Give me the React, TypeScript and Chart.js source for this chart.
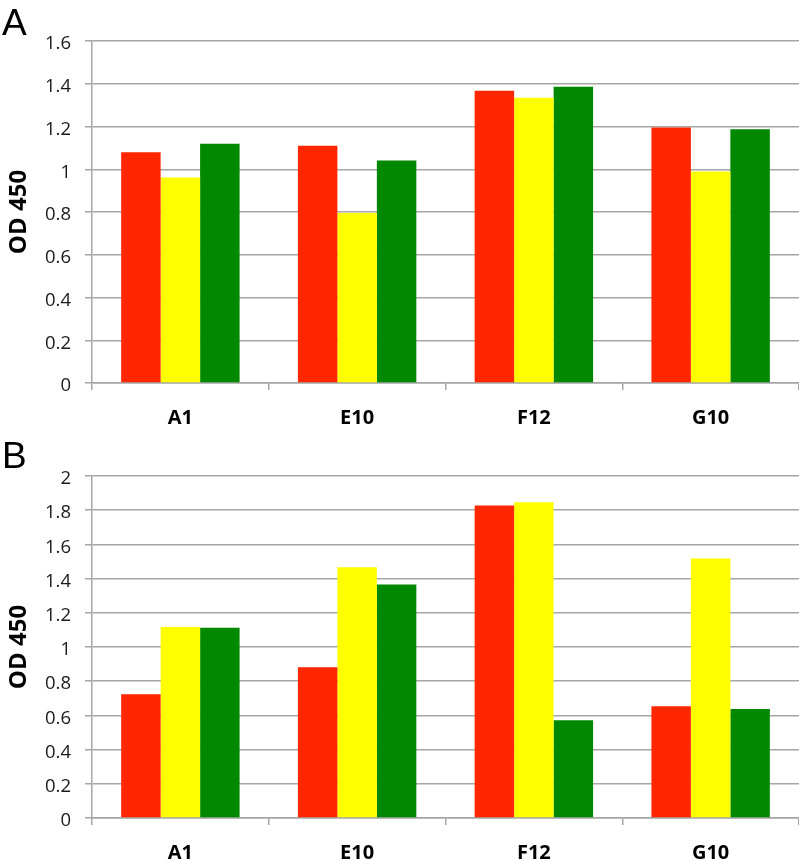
import React, { useEffect, useRef } from "react";
import { Chart, registerables } from "chart.js";

Chart.register(...registerables);

const categories = ["A1", "E10", "F12", "G10"];

const panelARed = [1.08, 1.11, 1.367, 1.195];
const panelAYellow = [0.961, 0.795, 1.334, 0.99];
const panelAGreen = [1.119, 1.041, 1.386, 1.187];

const panelBRed = [0.723, 0.882, 1.827, 0.654];
const panelBYellow = [1.117, 1.466, 1.846, 1.518];
const panelBGreen = [1.113, 1.366, 0.571, 0.637];

const yTickLabelsA = ["0", "0.2", "0.4", "0.6", "0.8", "1", "1.2", "1.4", "1.6"];
const yTickLabelsB = ["0", "0.2", "0.4", "0.6", "0.8", "1", "1.2", "1.4", "1.6", "1.8", "2"];

const seriesNames = ["Red", "Yellow", "Green"];
const seriesColors = ["#FF2600", "#FFFF00", "#008800"];

const GRID = "#a6a6a6";
const TICK_FONT = '"Open Sans", "Liberation Sans", sans-serif';

type PanelProps = {
  letter: string;
  top: number;
  height: number;
  areaTop: number;
  areaBottom: number;
  letterBaseline: number;
  max: number;
  tickLabels: string[];
  red: number[];
  yellow: number[];
  green: number[];
};

function Panel(p: PanelProps) {
  const ref = useRef<HTMLCanvasElement | null>(null);
  useEffect(() => {
    if (!ref.current) return;
    const letterPlugin = {
      id: "panelLetter",
      afterDraw(chart: any) {
        const ctx = chart.ctx;
        ctx.save();
        ctx.font = '37px "Liberation Sans", Arial, sans-serif';
        ctx.fillStyle = "#000";
        ctx.textBaseline = "alphabetic";
        ctx.textAlign = "left";
        ctx.fillText(p.letter, 2, p.letterBaseline);
        ctx.restore();
      },
    };
    const values = [p.red, p.yellow, p.green];
    const chart = new Chart(ref.current, {
      type: "bar",
      data: {
        labels: categories,
        datasets: values.map((v, i) => ({
          label: seriesNames[i],
          data: v,
          backgroundColor: seriesColors[i],
          borderWidth: 0,
          barPercentage: 1,
          categoryPercentage: 0.67,
        })),
      },
      options: {
        responsive: false,
        animation: false,
        devicePixelRatio: 1,
        layout: { padding: { top: p.areaTop, left: 0, right: 0, bottom: 0 } },
        plugins: {
          legend: { display: false },
          tooltip: { enabled: false },
          title: { display: false },
        },
        scales: {
          x: {
            offset: true,
            grid: {
              offset: true,
              drawOnChartArea: false,
              drawTicks: true,
              tickLength: 7,
              color: GRID,
              lineWidth: 1.5,
            },
            border: { display: true, color: GRID, width: 1.5 },
            ticks: {
              padding: 16,
              color: "#000",
              font: { family: TICK_FONT, size: 20, weight: "bold" },
            },
            afterFit: (s: any) => {
              s.height = p.height - p.areaBottom;
            },
          },
          y: {
            min: 0,
            max: p.max,
            ticks: {
              stepSize: 0.2,
              padding: 14,
              labelOffset: 3,
              color: "#1a1a1a",
              font: { family: TICK_FONT, size: 18.5 },
              callback: (_v: any, i: number) => p.tickLabels[i],
            },
            grid: {
              color: GRID,
              lineWidth: 1.5,
              tickLength: 7,
            },
            border: { display: true, color: GRID, width: 1.5 },
            title: {
              display: true,
              text: "OD 450",
              color: "#000",
              font: { family: TICK_FONT, size: 24, weight: "bold" },
              padding: { top: 5, bottom: 0 },
            },
            afterFit: (s: any) => {
              s.width = 92;
            },
          },
        },
      },
      plugins: [letterPlugin],
    });
    return () => chart.destroy();
  }, []);
  return (
    <canvas
      ref={ref}
      width={799}
      height={p.height}
      style={{ position: "absolute", left: 0, top: p.top, width: 799, height: p.height }}
    />
  );
}

export default function App() {
  return (
    <div style={{ position: "absolute", left: 0, top: 0, width: 799, height: 861, background: "#fff" }}>
      <Panel
        letter="A"
        top={0}
        height={430}
        areaTop={41}
        areaBottom={383}
        letterBaseline={35}
        max={1.6}
        tickLabels={yTickLabelsA}
        red={panelARed}
        yellow={panelAYellow}
        green={panelAGreen}
      />
      <Panel
        letter="B"
        top={430}
        height={431}
        areaTop={46}
        areaBottom={388}
        letterBaseline={38}
        max={2}
        tickLabels={yTickLabelsB}
        red={panelBRed}
        yellow={panelBYellow}
        green={panelBGreen}
      />
    </div>
  );
}
